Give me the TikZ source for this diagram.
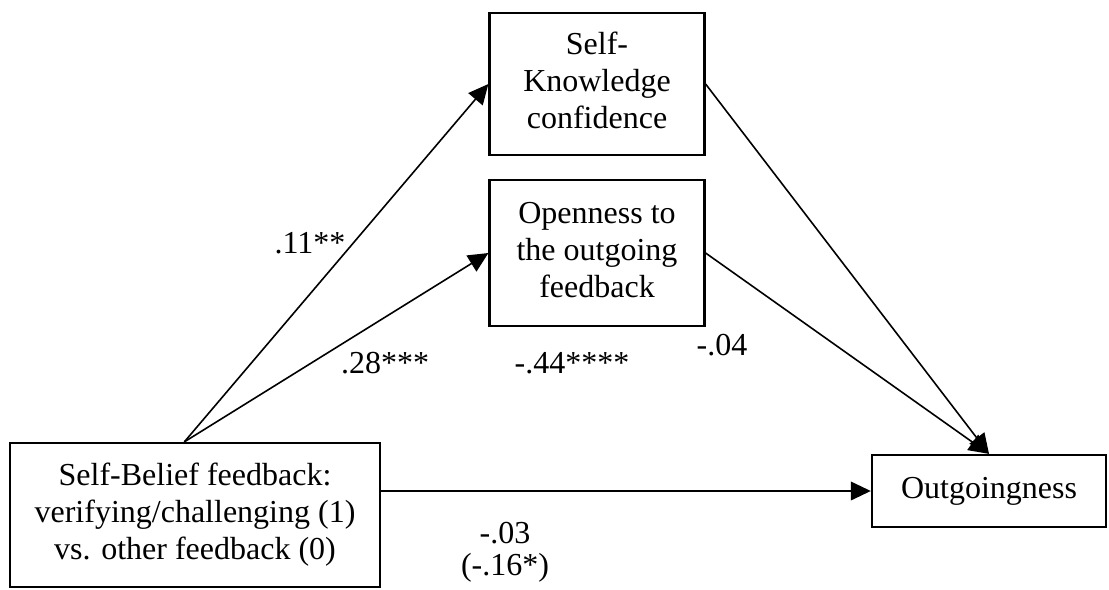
\documentclass[tikz,border=0pt]{standalone}
\usepackage{fontspec}
\setmainfont{Liberation Serif}
\usetikzlibrary{arrows.meta,positioning}
\tikzstyle{var} = [rectangle, draw=black, line width=0.85pt, text centered, inner sep=0pt]
\tikzstyle{arrow} = [line width=0.6pt,-{Triangle[length=7.5pt,width=7pt]}]
\tikzstyle{coef} = [inner sep=0pt]

\begin{document}
\begin{tikzpicture}[x=0.375pt, y=-0.375pt, font=\fontsize{12}{14}\selectfont]
\useasboundingbox (0,0) rectangle (1109,589);
% Variables
\node (skc) [var, minimum width=80.6pt, minimum height=53.3pt] at (597,84) {
\begin{tabular}{c}
Self-\\
Knowledge\\
confidence
\end{tabular}
};

\node (open) [var, minimum width=80.6pt, minimum height=54.5pt] at (597,253) {
\begin{tabular}{c}
Openness to\\
the outgoing\\
feedback
\end{tabular}
};

\node (fb) [var, minimum width=138.8pt, minimum height=54pt] at (195,515) {
\begin{tabular}{c}
Self-Belief feedback:\\
verifying/challenging (1)\\
vs. other feedback (0)
\end{tabular}
};

\node (out) [var, minimum width=87.8pt, minimum height=27pt] at (989,491) {Outgoingness};

% Arrows
\draw[arrow] ([xshift=-4pt]fb.north) -- (skc.west);
\draw[arrow] ([xshift=-4pt]fb.north) -- (open.west);
\draw[arrow] (skc.east) -- (out.north);
\draw[arrow] (open.east) -- (out.north);
\draw[arrow] (fb.east |- out.west) -- (out.west);

% Coefficients
\node (c1) [coef] at (310,243) {.11**};
\node (c2) [coef] at (385,363) {.28***};
\node (c3) [coef] at (722,345) {-.04};
\node (c4) [coef] at (572,363) {-.44****};
\node (c5) [coef] at (505,533) {-.03};
\node (c6) [coef] at (505,568) {(-.16*)};
\end{tikzpicture}
\end{document}
